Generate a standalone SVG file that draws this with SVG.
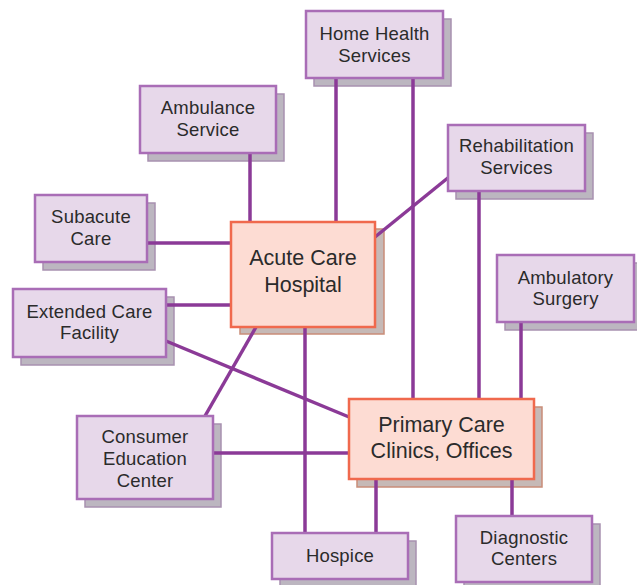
<svg xmlns="http://www.w3.org/2000/svg" width="637" height="585" viewBox="0 0 637 585">
<style>
.sh{fill:#bcb6c0;stroke:#a891b0;stroke-width:1.5}
.shm{fill:#c6b9b6;stroke:#c98d78;stroke-width:1.5}
.box{fill:#e7d8ea;stroke:#a96db6;stroke-width:2.5}
.main{fill:#fddcd3;stroke:#f0694d;stroke-width:2.5}
.t{font-family:"Liberation Sans",Arial,sans-serif;font-size:18.5px;letter-spacing:0.2px;fill:#2b2b2b;text-anchor:middle}
.tm{font-family:"Liberation Sans",Arial,sans-serif;font-size:21.5px;fill:#2b2b2b;text-anchor:middle}
#connectors line{stroke:#8b3a97;stroke-width:3.5}
</style>
<g id="shadows">
<rect class="sh" x="314" y="19" width="137" height="67"/>
<rect class="sh" x="148" y="94" width="136" height="67"/>
<rect class="sh" x="456" y="133" width="137" height="66"/>
<rect class="sh" x="43" y="203" width="112" height="67"/>
<rect class="shm" x="240" y="229" width="144" height="105"/>
<rect class="sh" x="21" y="297" width="153" height="68"/>
<rect class="sh" x="505" y="263" width="137" height="67"/>
<rect class="sh" x="85" y="424" width="136" height="83"/>
<rect class="shm" x="357" y="407" width="185" height="80"/>
<rect class="sh" x="280" y="541" width="136" height="46"/>
<rect class="sh" x="464" y="524" width="136" height="66"/>
</g>
<g id="connectors">
<line x1="336" y1="78" x2="336" y2="222"/>
<line x1="413" y1="78" x2="413" y2="399"/>
<line x1="250" y1="153" x2="250" y2="222"/>
<line x1="449" y1="177" x2="375" y2="237"/>
<line x1="479" y1="191" x2="479" y2="399"/>
<line x1="147" y1="243" x2="231" y2="243"/>
<line x1="166" y1="305" x2="231" y2="305"/>
<line x1="166" y1="341" x2="349" y2="417"/>
<line x1="205" y1="416" x2="256" y2="327"/>
<line x1="213" y1="453" x2="349" y2="453"/>
<line x1="305" y1="327" x2="305" y2="533"/>
<line x1="521" y1="322" x2="521" y2="399"/>
<line x1="376" y1="479" x2="376" y2="533"/>
<line x1="512" y1="479" x2="512" y2="516"/>
</g>
<g id="home-health">
<rect class="box" x="306" y="11" width="137" height="67"/>
<text class="t" x="374.5" y="40">Home Health</text>
<text class="t" x="374.5" y="62">Services</text>
</g>
<g id="ambulance">
<rect class="box" x="140" y="86" width="136" height="67"/>
<text class="t" x="208" y="114">Ambulance</text>
<text class="t" x="208" y="136">Service</text>
</g>
<g id="rehabilitation">
<rect class="box" x="448" y="125" width="137" height="66"/>
<text class="t" x="516.5" y="152">Rehabilitation</text>
<text class="t" x="516.5" y="174">Services</text>
</g>
<g id="subacute">
<rect class="box" x="35" y="195" width="112" height="67"/>
<text class="t" x="91" y="223">Subacute</text>
<text class="t" x="91" y="245">Care</text>
</g>
<g id="acute-care">
<rect class="main" x="231" y="222" width="144" height="105"/>
<text class="tm" x="303" y="265">Acute Care</text>
<text class="tm" x="303" y="292">Hospital</text>
</g>
<g id="extended-care">
<rect class="box" x="13" y="289" width="153" height="68"/>
<text class="t" x="89.5" y="318">Extended Care</text>
<text class="t" x="89.5" y="339">Facility</text>
</g>
<g id="ambulatory">
<rect class="box" x="497" y="255" width="137" height="67"/>
<text class="t" x="565.5" y="284">Ambulatory</text>
<text class="t" x="565.5" y="305">Surgery</text>
</g>
<g id="consumer-education">
<rect class="box" x="77" y="416" width="136" height="83"/>
<text class="t" x="145" y="443">Consumer</text>
<text class="t" x="145" y="465">Education</text>
<text class="t" x="145" y="487">Center</text>
</g>
<g id="primary-care">
<rect class="main" x="349" y="399" width="185" height="80"/>
<text class="tm" x="441.5" y="432">Primary Care</text>
<text class="tm" x="441.5" y="458">Clinics, Offices</text>
</g>
<g id="hospice">
<rect class="box" x="272" y="533" width="136" height="46"/>
<text class="t" x="340" y="562">Hospice</text>
</g>
<g id="diagnostic">
<rect class="box" x="456" y="516" width="136" height="66"/>
<text class="t" x="524" y="544">Diagnostic</text>
<text class="t" x="524" y="565">Centers</text>
</g>
</svg>
